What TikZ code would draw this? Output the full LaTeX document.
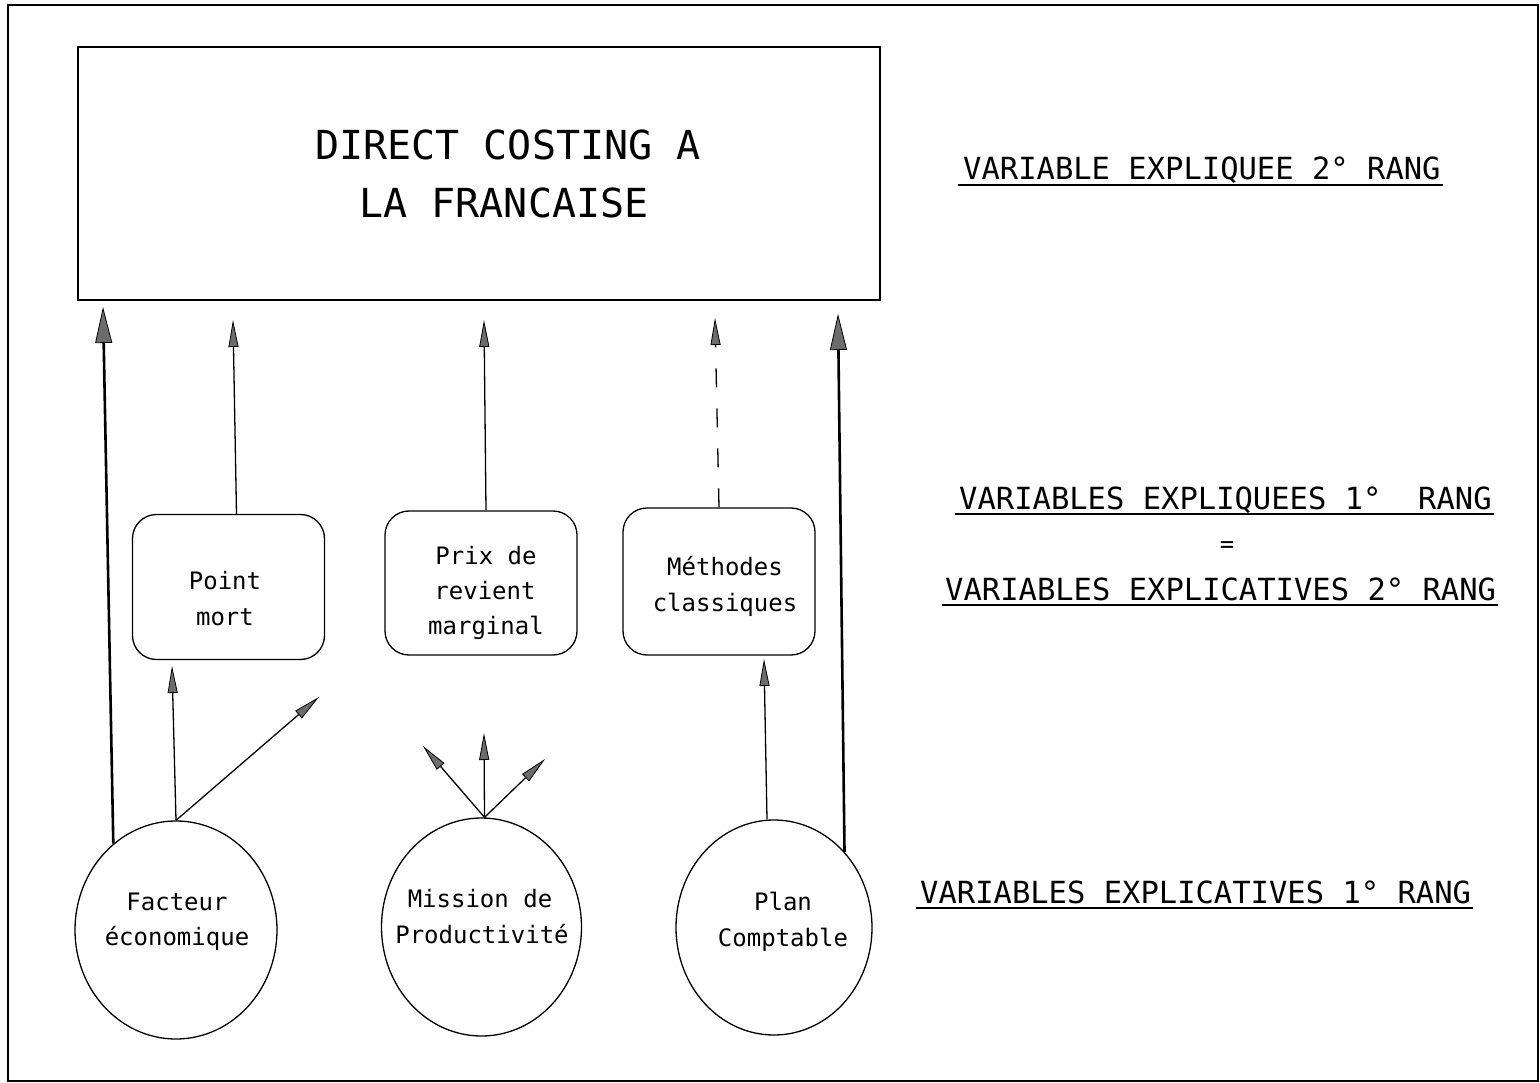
\documentclass[tikz,border=0pt]{standalone}
\usepackage{fontspec}
\usetikzlibrary{arrows.meta,shapes.geometric}
\newfontfamily\monofam{DejaVu Sans Mono}
\begin{document}
\begin{tikzpicture}[x=1pt,y=-1pt,
  every node/.style={inner sep=0pt},
  titlef/.style={font=\monofam\fontsize{40}{48}\selectfont},
  labf/.style={font=\monofam\fontsize{30.5}{36}\selectfont},
  boxf/.style={font=\monofam\fontsize{24}{30}\selectfont},
  mainbox/.style={draw,line width=1.5pt,minimum width=802pt,minimum height=253pt},
  rbox/.style={draw,line width=1.3pt,rounded corners=24pt,minimum width=192pt,minimum height=145pt},
  oval/.style={draw,ellipse,line width=1.3pt},
  arrthin/.style={line width=1.3pt,-{Triangle[length=27pt,width=10pt,fill=gray!85!black,line width=0.8pt]}},
  arrthick/.style={line width=2.6pt,-{Triangle[length=36pt,width=17pt,fill=gray!85!black,line width=0.8pt]}},
  uline/.style={line width=1.4pt},
]
\useasboundingbox (0,0) rectangle (1540,1083);
\draw[line width=1.5pt] (8,5) rectangle (1538,1081);

% main box
\node[mainbox] (title) at (479,173.5) {};
\node[titlef,anchor=base] (t1) at (508,160) {DIRECT COSTING A};
\node[titlef,anchor=base] (t2) at (504,218) {LA FRANCAISE};

% rounded boxes
\node[rbox] (pm) at (228.5,587) {};
\node[boxf,anchor=base] (pm1) at (225,589) {Point};
\node[boxf,anchor=base] (pm2) at (225,625) {mort};

\node[rbox,minimum height=144pt] (pr) at (481,583) {};
\node[boxf,anchor=base] (pr1) at (486,564) {Prix de};
\node[boxf,anchor=base] (pr2) at (485,599) {revient};
\node[boxf,anchor=base] (pr3) at (486,634) {marginal};

\node[rbox,minimum height=147pt] (me) at (719,581.5) {};
\node[boxf,anchor=base] (me1) at (725,575) {Méthodes};
\node[boxf,anchor=base] (me2) at (725,611) {classiques};

% ellipses
\node[oval,minimum width=202pt,minimum height=218pt] (F) at (176,930) {};
\node[boxf,anchor=base] (F1) at (177,910) {Facteur};
\node[boxf,anchor=base] (F2) at (177,945) {économique};

\node[oval,minimum width=200pt,minimum height=218pt] (M) at (481.5,927) {};
\node[boxf,anchor=base] (M1) at (480,907) {Mission de};
\node[boxf,anchor=base] (M2) at (482,943) {Productivité};

\node[oval,minimum width=196pt,minimum height=215pt] (P) at (774,927.5) {};
\node[boxf,anchor=base] (P1) at (783,910) {Plan};
\node[boxf,anchor=base] (P2) at (783,946) {Comptable};

% arrow tips (free ends)
\coordinate (tA) at (103,307);
\coordinate (tB) at (233,320);
\coordinate (tC) at (484,320);
\coordinate (tD) at (715,318);
\coordinate (tE) at (838,314);
\coordinate (tF) at (764,659);
\coordinate (tG) at (172,666);
\coordinate (tH) at (319,697);
\coordinate (tI) at (423,746);
\coordinate (tJ) at (484,733);
\coordinate (tK) at (545,759);

% connectors
\draw[arrthick] (F.126) -- (tA);
\draw[arrthin] ([xshift=8pt]pm.north) -- (tB);
\draw[arrthin] ([xshift=5pt]pr.north) -- (tC);
\draw[arrthin,dash pattern=on 19pt off 21pt] (me.north) -- (tD);
\draw[arrthick] (P.47) -- (tE);
\draw[arrthin] ([xshift=-7pt]P.north) -- (tF);
\draw[arrthin] (F.north) -- (tG);
\draw[arrthin] (F.north) -- (tH);
\draw[arrthin] ([xshift=3pt]M.north) -- (tI);
\draw[arrthin] ([xshift=3pt]M.north) -- (tJ);
\draw[arrthin] ([xshift=3pt]M.north) -- (tK);

% right labels
\node[labf,anchor=base west] (L1) at (963,180) {VARIABLE EXPLIQUEE 2° RANG};
\draw[uline] ([xshift=-5pt,yshift=-5pt]L1.base west) -- ([xshift=2pt,yshift=-5pt]L1.base east);

\node[labf,anchor=base west] (L2) at (959,509) {VARIABLES EXPLIQUEES 1°~~RANG};
\draw[uline] ([xshift=-4pt,yshift=-5pt]L2.base west) -- ([xshift=2pt,yshift=-5pt]L2.base east);

\node[font=\monofam\fontsize{24}{26}\selectfont] (eq) at (1227,547) {=};

\node[labf,anchor=base west] (L3) at (945,600) {VARIABLES EXPLICATIVES 2° RANG};
\draw[uline] ([xshift=-3pt,yshift=-5pt]L3.base west) -- ([xshift=2pt,yshift=-5pt]L3.base east);

\node[labf,anchor=base west] (L4) at (920,903) {VARIABLES EXPLICATIVES 1° RANG};
\draw[uline] ([xshift=-4pt,yshift=-5pt]L4.base west) -- ([xshift=2pt,yshift=-5pt]L4.base east);
\end{tikzpicture}
\end{document}
